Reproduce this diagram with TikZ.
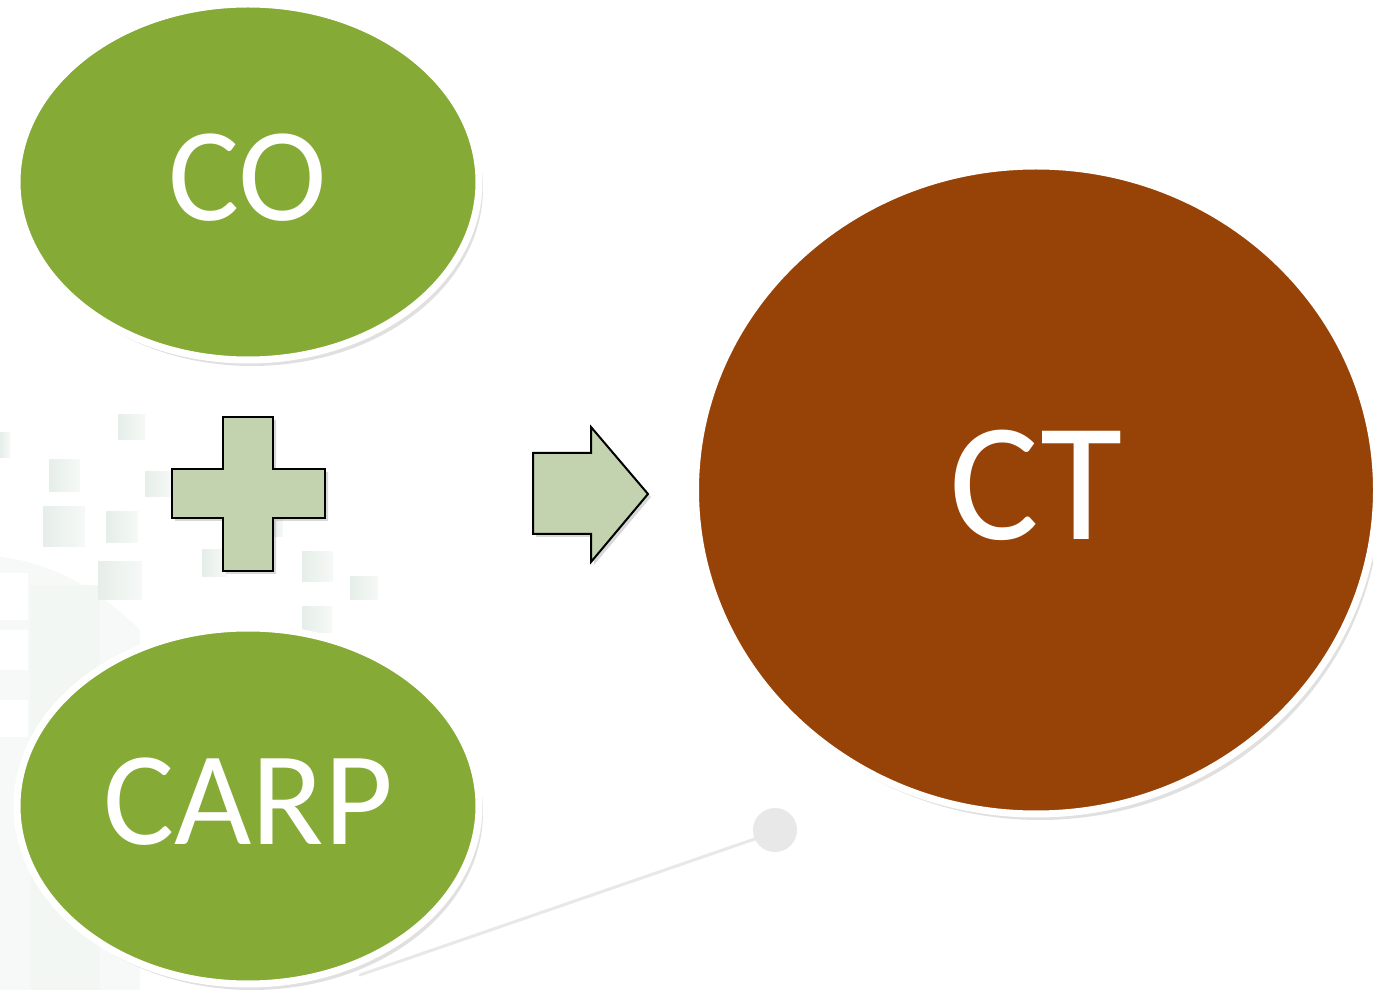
\documentclass[tikz,border=0pt]{standalone}
\usepackage{fontspec}
\setmainfont{Carlito}
\usetikzlibrary{shapes.geometric,shadows}
\definecolor{cogreen}{RGB}{134,170,54}
\definecolor{ctbrown}{RGB}{151,67,7}
\definecolor{plusfill}{RGB}{195,211,175}
\definecolor{wm}{RGB}{230,238,233}
\definecolor{wmlight}{RGB}{246,249,247}
\definecolor{dotgray}{RGB}{232,232,232}
\begin{document}
\begin{tikzpicture}[x=0.1mm,y=-0.1mm,
  bubble/.style={ellipse, draw=white, line width=0.7mm, inner sep=0pt, text=white, text depth=1mm,
    drop shadow={shadow xshift=0.4mm, shadow yshift=-0.6mm, opacity=0.12, fill=black}},
  wmsq/.style={left color=wm, right color=wmlight, draw=none},
  symbolshape/.style={draw=black, line width=0.2mm, fill=plusfill, line join=miter,
    drop shadow={shadow xshift=0.3mm, shadow yshift=-0.3mm, opacity=0.3}}
]
\useasboundingbox (0,0) rectangle (1373,990);
\fill[white] (0,0) rectangle (1373,990);
% faint background watermark
\fill[wmlight] (0,557) .. controls (50,562) and (100,590) .. (140,630) -- (140,990) -- (0,990) -- cycle;
\fill[wm!50] (30,585) rectangle (100,990);
\fill[white] (0,573) rectangle (28,620);
\fill[white] (0,630) rectangle (28,670);
\fill[white] (0,700) rectangle (28,737);
\foreach \xa/\ya/\xb/\yb in {118/415/145/440, 0/433/10/458, 49/460/80/492, 145/472/172/497,
  43/507/85/547, 106/512/138/543, 98/562/142/600, 202/550/227/577, 273/520/283/537,
  302/552/333/582, 350/577/378/600, 302/607/332/633}
  \fill[wmsq] (\xa,\ya) rectangle (\xb,\yb);
\draw[dotgray, line width=0.3mm, line cap=round] (360,975) -- (775,832);
\fill[dotgray] (775,830) circle (22);
% main shapes
\node[bubble, fill=cogreen, minimum width=46.2mm, minimum height=35.6mm,
  font=\fontsize{38}{46}\selectfont] (co) at (248,182) {CO};
\node[bubble, fill=cogreen, minimum width=46.2mm, minimum height=35.6mm,
  font=\fontsize{38}{46}\selectfont] (carp) at (248,806) {CARP};
\node[bubble, fill=ctbrown, minimum width=68.1mm, minimum height=64.8mm,
  font=\fontsize{48}{58}\selectfont] (ct) at (1036,490) {CT};
% plus sign
\draw[symbolshape] (223,417) -- (273,417) -- (273,469) -- (325,469) -- (325,518) -- (273,518)
  -- (273,571) -- (223,571) -- (223,518) -- (172,518) -- (172,469) -- (223,469) -- cycle;
% arrow
\draw[symbolshape] (533,453) -- (591,453) -- (591,427) -- (648,494) -- (591,562) -- (591,534)
  -- (533,534) -- cycle;
\end{tikzpicture}
\end{document}
